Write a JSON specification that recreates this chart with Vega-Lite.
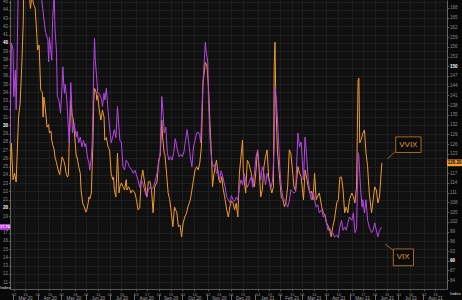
{
  "$schema": "https://vega.github.io/schema/vega-lite/v6.json",
  "width": 437,
  "height": 289,
  "autosize": {"type": "none"},
  "padding": {"left": 10, "top": 0, "right": 15, "bottom": 11},
  "background": "#080808",
  "config": {
    "font": "Liberation Sans",
    "view": {"fill": "#101010", "stroke": null},
    "axis": {"labelFont": "Liberation Sans", "titleFont": "Liberation Sans", "labelOverlap": false, "labelFlush": false}
  },
  "datasets": {
    "vix": [
      {"date":"2020-02-26","value":27.4},{"date":"2020-02-28","value":40.0},{"date":"2020-03-01","value":39.2},{"date":"2020-03-02","value":33.5},{"date":"2020-03-04","value":36.7},{"date":"2020-03-05","value":31.9},{"date":"2020-03-06","value":37.1},{"date":"2020-03-09","value":54.5},{"date":"2020-03-12","value":75.5},{"date":"2020-03-16","value":82.7},{"date":"2020-03-18","value":76.5},{"date":"2020-03-20","value":66.0},{"date":"2020-03-23","value":61.6},{"date":"2020-03-26","value":61.0},{"date":"2020-03-31","value":53.5},{"date":"2020-04-02","value":50.9},{"date":"2020-04-06","value":45.5},{"date":"2020-04-11","value":41.3},{"date":"2020-04-14","value":40.4},{"date":"2020-04-15","value":37.7},{"date":"2020-04-16","value":40.7},{"date":"2020-04-19","value":37.9},{"date":"2020-04-20","value":42.8},{"date":"2020-04-22","value":46.0},{"date":"2020-04-23","value":41.9},{"date":"2020-04-25","value":38.8},{"date":"2020-04-26","value":33.5},{"date":"2020-04-28","value":33.1},{"date":"2020-04-30","value":31.5},{"date":"2020-05-02","value":34.7},{"date":"2020-05-03","value":37.1},{"date":"2020-05-04","value":35.2},{"date":"2020-05-05","value":33.9},{"date":"2020-05-06","value":35.0},{"date":"2020-05-08","value":33.1},{"date":"2020-05-11","value":27.9},{"date":"2020-05-13","value":35.2},{"date":"2020-05-14","value":33.0},{"date":"2020-05-15","value":29.1},{"date":"2020-05-17","value":30.3},{"date":"2020-05-20","value":28.6},{"date":"2020-05-21","value":29.3},{"date":"2020-05-23","value":27.9},{"date":"2020-05-25","value":28.6},{"date":"2020-05-27","value":27.4},{"date":"2020-05-29","value":28.2},{"date":"2020-05-31","value":27.4},{"date":"2020-06-01","value":27.8},{"date":"2020-06-03","value":26.2},{"date":"2020-06-05","value":25.4},{"date":"2020-06-06","value":24.6},{"date":"2020-06-08","value":26.2},{"date":"2020-06-09","value":27.9},{"date":"2020-06-10","value":31.9},{"date":"2020-06-11","value":37.1},{"date":"2020-06-12","value":40.6},{"date":"2020-06-13","value":37.9},{"date":"2020-06-15","value":35.5},{"date":"2020-06-16","value":33.9},{"date":"2020-06-18","value":33.9},{"date":"2020-06-21","value":33.1},{"date":"2020-06-22","value":32.3},{"date":"2020-06-24","value":33.9},{"date":"2020-06-25","value":33.1},{"date":"2020-06-27","value":34.5},{"date":"2020-06-29","value":31.9},{"date":"2020-07-01","value":29.8},{"date":"2020-07-03","value":27.9},{"date":"2020-07-05","value":28.6},{"date":"2020-07-07","value":29.5},{"date":"2020-07-09","value":28.5},{"date":"2020-07-11","value":32.3},{"date":"2020-07-14","value":28.2},{"date":"2020-07-16","value":27.9},{"date":"2020-07-18","value":25.0},{"date":"2020-07-20","value":24.6},{"date":"2020-07-22","value":25.8},{"date":"2020-07-24","value":25.5},{"date":"2020-07-26","value":25.0},{"date":"2020-07-29","value":24.6},{"date":"2020-07-31","value":24.2},{"date":"2020-08-02","value":24.6},{"date":"2020-08-04","value":24.0},{"date":"2020-08-06","value":23.4},{"date":"2020-08-08","value":22.5},{"date":"2020-08-10","value":23.4},{"date":"2020-08-12","value":23.0},{"date":"2020-08-15","value":21.9},{"date":"2020-08-17","value":21.3},{"date":"2020-08-19","value":22.2},{"date":"2020-08-21","value":22.5},{"date":"2020-08-23","value":22.2},{"date":"2020-08-25","value":22.5},{"date":"2020-08-27","value":23.0},{"date":"2020-08-30","value":24.2},{"date":"2020-09-01","value":25.4},{"date":"2020-09-03","value":26.7},{"date":"2020-09-05","value":33.5},{"date":"2020-09-07","value":31.0},{"date":"2020-09-08","value":29.1},{"date":"2020-09-10","value":29.8},{"date":"2020-09-12","value":26.7},{"date":"2020-09-14","value":25.8},{"date":"2020-09-16","value":26.2},{"date":"2020-09-18","value":25.8},{"date":"2020-09-20","value":26.7},{"date":"2020-09-22","value":28.4},{"date":"2020-09-24","value":27.4},{"date":"2020-09-26","value":26.5},{"date":"2020-09-27","value":26.2},{"date":"2020-09-29","value":26.5},{"date":"2020-10-01","value":26.2},{"date":"2020-10-03","value":26.8},{"date":"2020-10-05","value":28.2},{"date":"2020-10-07","value":29.5},{"date":"2020-10-09","value":27.9},{"date":"2020-10-11","value":26.2},{"date":"2020-10-13","value":25.0},{"date":"2020-10-15","value":27.4},{"date":"2020-10-17","value":28.2},{"date":"2020-10-19","value":29.1},{"date":"2020-10-21","value":29.2},{"date":"2020-10-23","value":28.8},{"date":"2020-10-24","value":27.9},{"date":"2020-10-25","value":30.3},{"date":"2020-10-27","value":35.2},{"date":"2020-10-30","value":40.1},{"date":"2020-10-31","value":39.0},{"date":"2020-11-02","value":37.7},{"date":"2020-11-03","value":33.1},{"date":"2020-11-05","value":28.2},{"date":"2020-11-07","value":25.8},{"date":"2020-11-09","value":25.0},{"date":"2020-11-11","value":25.3},{"date":"2020-11-13","value":24.2},{"date":"2020-11-15","value":24.5},{"date":"2020-11-17","value":23.4},{"date":"2020-11-19","value":24.5},{"date":"2020-11-21","value":23.8},{"date":"2020-11-24","value":22.5},{"date":"2020-11-26","value":21.3},{"date":"2020-11-28","value":21.0},{"date":"2020-11-30","value":20.6},{"date":"2020-12-02","value":21.5},{"date":"2020-12-04","value":21.0},{"date":"2020-12-06","value":20.8},{"date":"2020-12-08","value":21.3},{"date":"2020-12-10","value":21.0},{"date":"2020-12-12","value":22.5},{"date":"2020-12-14","value":23.4},{"date":"2020-12-16","value":22.8},{"date":"2020-12-18","value":24.2},{"date":"2020-12-20","value":23.4},{"date":"2020-12-22","value":22.5},{"date":"2020-12-24","value":23.0},{"date":"2020-12-27","value":23.8},{"date":"2020-12-29","value":22.5},{"date":"2020-12-31","value":24.2},{"date":"2021-01-02","value":26.2},{"date":"2021-01-04","value":27.0},{"date":"2021-01-06","value":25.0},{"date":"2021-01-08","value":23.4},{"date":"2021-01-10","value":25.0},{"date":"2021-01-12","value":24.2},{"date":"2021-01-14","value":22.8},{"date":"2021-01-16","value":24.2},{"date":"2021-01-18","value":23.4},{"date":"2021-01-21","value":22.5},{"date":"2021-01-23","value":23.4},{"date":"2021-01-25","value":27.4},{"date":"2021-01-26","value":34.7},{"date":"2021-01-28","value":32.7},{"date":"2021-01-30","value":29.1},{"date":"2021-02-01","value":25.0},{"date":"2021-02-03","value":22.5},{"date":"2021-02-05","value":21.3},{"date":"2021-02-07","value":21.0},{"date":"2021-02-09","value":20.6},{"date":"2021-02-11","value":20.1},{"date":"2021-02-13","value":20.8},{"date":"2021-02-15","value":22.2},{"date":"2021-02-17","value":22.0},{"date":"2021-02-19","value":21.8},{"date":"2021-02-21","value":22.0},{"date":"2021-02-24","value":29.1},{"date":"2021-02-26","value":27.4},{"date":"2021-02-28","value":28.0},{"date":"2021-03-03","value":23.4},{"date":"2021-03-05","value":28.6},{"date":"2021-03-07","value":26.2},{"date":"2021-03-09","value":23.4},{"date":"2021-03-11","value":21.8},{"date":"2021-03-13","value":21.0},{"date":"2021-03-15","value":22.0},{"date":"2021-03-17","value":21.0},{"date":"2021-03-19","value":20.1},{"date":"2021-03-21","value":20.4},{"date":"2021-03-23","value":19.4},{"date":"2021-03-26","value":19.8},{"date":"2021-03-28","value":18.9},{"date":"2021-03-30","value":19.2},{"date":"2021-04-01","value":18.2},{"date":"2021-04-03","value":17.3},{"date":"2021-04-05","value":17.6},{"date":"2021-04-07","value":17.0},{"date":"2021-04-09","value":17.0},{"date":"2021-04-11","value":16.5},{"date":"2021-04-14","value":16.7},{"date":"2021-04-16","value":16.4},{"date":"2021-04-18","value":17.7},{"date":"2021-04-20","value":18.5},{"date":"2021-04-22","value":17.3},{"date":"2021-04-24","value":17.7},{"date":"2021-04-26","value":17.3},{"date":"2021-04-28","value":18.2},{"date":"2021-04-30","value":18.9},{"date":"2021-05-03","value":18.5},{"date":"2021-05-05","value":19.4},{"date":"2021-05-07","value":17.0},{"date":"2021-05-09","value":17.5},{"date":"2021-05-11","value":26.7},{"date":"2021-05-12","value":26.2},{"date":"2021-05-14","value":22.5},{"date":"2021-05-16","value":20.1},{"date":"2021-05-17","value":21.0},{"date":"2021-05-19","value":19.4},{"date":"2021-05-21","value":21.0},{"date":"2021-05-23","value":18.5},{"date":"2021-05-25","value":17.7},{"date":"2021-05-28","value":17.0},{"date":"2021-05-30","value":17.3},{"date":"2021-06-01","value":18.2},{"date":"2021-06-03","value":17.3},{"date":"2021-06-05","value":16.5},{"date":"2021-06-07","value":17.3},{"date":"2021-06-10","value":17.7}
    ],
    "vvix": [
      {"date":"2020-02-26","value":114},{"date":"2020-02-28","value":126.3},{"date":"2020-03-01","value":115},{"date":"2020-03-03","value":117},{"date":"2020-03-05","value":114.3},{"date":"2020-03-08","value":134.3},{"date":"2020-03-10","value":138.6},{"date":"2020-03-12","value":149.7},{"date":"2020-03-14","value":164},{"date":"2020-03-16","value":207},{"date":"2020-03-18","value":190},{"date":"2020-03-20","value":175},{"date":"2020-03-22","value":171},{"date":"2020-03-23","value":167.8},{"date":"2020-03-25","value":172},{"date":"2020-03-27","value":169},{"date":"2020-03-29","value":168},{"date":"2020-03-31","value":160},{"date":"2020-04-01","value":155},{"date":"2020-04-03","value":156.5},{"date":"2020-04-04","value":149.7},{"date":"2020-04-05","value":142.6},{"date":"2020-04-07","value":142},{"date":"2020-04-08","value":134.3},{"date":"2020-04-09","value":140.5},{"date":"2020-04-10","value":138.6},{"date":"2020-04-11","value":136.5},{"date":"2020-04-13","value":131.2},{"date":"2020-04-15","value":132},{"date":"2020-04-16","value":129.4},{"date":"2020-04-18","value":130},{"date":"2020-04-19","value":127.2},{"date":"2020-04-20","value":126},{"date":"2020-04-22","value":124.2},{"date":"2020-04-23","value":122},{"date":"2020-04-25","value":120.2},{"date":"2020-04-27","value":118},{"date":"2020-04-29","value":116.5},{"date":"2020-05-01","value":120.2},{"date":"2020-05-02","value":122},{"date":"2020-05-04","value":121},{"date":"2020-05-06","value":119},{"date":"2020-05-07","value":117},{"date":"2020-05-09","value":115.8},{"date":"2020-05-10","value":116.5},{"date":"2020-05-11","value":126.3},{"date":"2020-05-13","value":139.5},{"date":"2020-05-15","value":134.3},{"date":"2020-05-16","value":134},{"date":"2020-05-18","value":128.2},{"date":"2020-05-20","value":122},{"date":"2020-05-21","value":122},{"date":"2020-05-23","value":119},{"date":"2020-05-25","value":117},{"date":"2020-05-26","value":111.8},{"date":"2020-05-28","value":107.8},{"date":"2020-05-30","value":106.6},{"date":"2020-06-01","value":105},{"date":"2020-06-02","value":105.4},{"date":"2020-06-04","value":107.8},{"date":"2020-06-05","value":109.7},{"date":"2020-06-06","value":109},{"date":"2020-06-08","value":110.9},{"date":"2020-06-09","value":119},{"date":"2020-06-10","value":126.3},{"date":"2020-06-11","value":139.5},{"date":"2020-06-12","value":143.2},{"date":"2020-06-14","value":142},{"date":"2020-06-15","value":139.5},{"date":"2020-06-16","value":141},{"date":"2020-06-18","value":136.5},{"date":"2020-06-20","value":133.4},{"date":"2020-06-22","value":136.5},{"date":"2020-06-24","value":134.3},{"date":"2020-06-25","value":127.2},{"date":"2020-06-27","value":128},{"date":"2020-06-29","value":125.1},{"date":"2020-07-01","value":124.2},{"date":"2020-07-03","value":117},{"date":"2020-07-05","value":115},{"date":"2020-07-06","value":115.8},{"date":"2020-07-07","value":111.8},{"date":"2020-07-09","value":109.7},{"date":"2020-07-11","value":123.2},{"date":"2020-07-13","value":110.9},{"date":"2020-07-14","value":112.8},{"date":"2020-07-16","value":114},{"date":"2020-07-18","value":112.8},{"date":"2020-07-20","value":111.8},{"date":"2020-07-22","value":115},{"date":"2020-07-23","value":111.8},{"date":"2020-07-25","value":112.8},{"date":"2020-07-27","value":111.8},{"date":"2020-07-28","value":110.9},{"date":"2020-07-30","value":111.8},{"date":"2020-08-02","value":110.9},{"date":"2020-08-04","value":108.8},{"date":"2020-08-06","value":105.7},{"date":"2020-08-08","value":106.3},{"date":"2020-08-10","value":115},{"date":"2020-08-12","value":118},{"date":"2020-08-15","value":112.8},{"date":"2020-08-17","value":109.7},{"date":"2020-08-19","value":114.3},{"date":"2020-08-21","value":114.5},{"date":"2020-08-23","value":111.8},{"date":"2020-08-25","value":104.8},{"date":"2020-08-27","value":112.8},{"date":"2020-08-30","value":114.3},{"date":"2020-09-01","value":121},{"date":"2020-09-03","value":122.5},{"date":"2020-09-05","value":133.4},{"date":"2020-09-06","value":128.2},{"date":"2020-09-08","value":123.2},{"date":"2020-09-09","value":122.5},{"date":"2020-09-11","value":117},{"date":"2020-09-13","value":110.9},{"date":"2020-09-15","value":108.8},{"date":"2020-09-17","value":104.8},{"date":"2020-09-19","value":100.5},{"date":"2020-09-21","value":106.6},{"date":"2020-09-24","value":104.8},{"date":"2020-09-26","value":100.5},{"date":"2020-09-28","value":101},{"date":"2020-09-30","value":97.4},{"date":"2020-10-02","value":101.7},{"date":"2020-10-04","value":103.5},{"date":"2020-10-06","value":104.5},{"date":"2020-10-08","value":106.6},{"date":"2020-10-11","value":108.8},{"date":"2020-10-13","value":111.8},{"date":"2020-10-15","value":115},{"date":"2020-10-17","value":118},{"date":"2020-10-19","value":119},{"date":"2020-10-21","value":118},{"date":"2020-10-23","value":120.2},{"date":"2020-10-25","value":125.1},{"date":"2020-10-27","value":144.8},{"date":"2020-10-30","value":151.2},{"date":"2020-11-01","value":150},{"date":"2020-11-03","value":143.6},{"date":"2020-11-05","value":131.2},{"date":"2020-11-07","value":121},{"date":"2020-11-08","value":112.8},{"date":"2020-11-10","value":117},{"date":"2020-11-11","value":118.5},{"date":"2020-11-13","value":121},{"date":"2020-11-15","value":117},{"date":"2020-11-16","value":115},{"date":"2020-11-18","value":114},{"date":"2020-11-20","value":116},{"date":"2020-11-21","value":112.8},{"date":"2020-11-24","value":108.8},{"date":"2020-11-26","value":105.7},{"date":"2020-11-28","value":103.5},{"date":"2020-11-30","value":106.6},{"date":"2020-12-02","value":108.5},{"date":"2020-12-04","value":107.8},{"date":"2020-12-06","value":105.7},{"date":"2020-12-08","value":107.8},{"date":"2020-12-10","value":103.5},{"date":"2020-12-12","value":117},{"date":"2020-12-14","value":122},{"date":"2020-12-16","value":127.2},{"date":"2020-12-17","value":117},{"date":"2020-12-19","value":112.8},{"date":"2020-12-20","value":110.9},{"date":"2020-12-22","value":121},{"date":"2020-12-24","value":120},{"date":"2020-12-27","value":117},{"date":"2020-12-29","value":114},{"date":"2020-12-31","value":112.8},{"date":"2021-01-02","value":118},{"date":"2021-01-04","value":124.2},{"date":"2021-01-06","value":118},{"date":"2021-01-08","value":109.7},{"date":"2021-01-10","value":112},{"date":"2021-01-12","value":119},{"date":"2021-01-14","value":122},{"date":"2021-01-16","value":124.2},{"date":"2021-01-18","value":115.8},{"date":"2021-01-20","value":113},{"date":"2021-01-22","value":110.9},{"date":"2021-01-24","value":112.8},{"date":"2021-01-25","value":150},{"date":"2021-01-26","value":157.4},{"date":"2021-01-27","value":139.5},{"date":"2021-01-29","value":124.2},{"date":"2021-02-01","value":115},{"date":"2021-02-03","value":109.7},{"date":"2021-02-05","value":108.8},{"date":"2021-02-07","value":106.6},{"date":"2021-02-09","value":108.5},{"date":"2021-02-11","value":112.8},{"date":"2021-02-13","value":124.2},{"date":"2021-02-15","value":123.2},{"date":"2021-02-17","value":118},{"date":"2021-02-19","value":112.8},{"date":"2021-02-21","value":111.5},{"date":"2021-02-24","value":119},{"date":"2021-02-26","value":117},{"date":"2021-02-28","value":116},{"date":"2021-03-03","value":108.8},{"date":"2021-03-05","value":118},{"date":"2021-03-07","value":115.5},{"date":"2021-03-09","value":112.8},{"date":"2021-03-11","value":110.9},{"date":"2021-03-13","value":111.5},{"date":"2021-03-15","value":108.8},{"date":"2021-03-17","value":117},{"date":"2021-03-19","value":108.8},{"date":"2021-03-21","value":110},{"date":"2021-03-23","value":110.9},{"date":"2021-03-26","value":106.6},{"date":"2021-03-28","value":104.8},{"date":"2021-03-30","value":104},{"date":"2021-04-01","value":101.7},{"date":"2021-04-03","value":100.8},{"date":"2021-04-05","value":99.5},{"date":"2021-04-07","value":97.4},{"date":"2021-04-09","value":100.5},{"date":"2021-04-11","value":102.6},{"date":"2021-04-14","value":107.8},{"date":"2021-04-16","value":108.8},{"date":"2021-04-18","value":115.8},{"date":"2021-04-20","value":115.8},{"date":"2021-04-22","value":111.8},{"date":"2021-04-24","value":104.8},{"date":"2021-04-26","value":106.6},{"date":"2021-04-28","value":104.8},{"date":"2021-04-30","value":108.8},{"date":"2021-05-03","value":110.9},{"date":"2021-05-05","value":109.8},{"date":"2021-05-07","value":107.8},{"date":"2021-05-09","value":112.8},{"date":"2021-05-11","value":145.7},{"date":"2021-05-12","value":146.3},{"date":"2021-05-13","value":126.3},{"date":"2021-05-15","value":127.5},{"date":"2021-05-17","value":129.4},{"date":"2021-05-19","value":130.3},{"date":"2021-05-21","value":123.2},{"date":"2021-05-23","value":119},{"date":"2021-05-25","value":110.9},{"date":"2021-05-28","value":104.8},{"date":"2021-05-30","value":108.8},{"date":"2021-06-01","value":112.8},{"date":"2021-06-03","value":111.8},{"date":"2021-06-05","value":107.8},{"date":"2021-06-07","value":109.7},{"date":"2021-06-10","value":120.2}
    ]
  },
  "layer": [
    {
      "data": {"name": "vvix"},
      "mark": {"type": "line", "clip": true, "color": "#f09a2c", "strokeWidth": 1},
      "encoding": {
        "x": {
          "field": "date", "type": "temporal",
          "scale": {"type": "utc", "domain": [1582693200000, 1630393200000]},
          "axis": {
            "orient": "bottom", "title": null,
            "values": [1583107200000,1584316800000,1585699200000,1586995200000,1588291200000,1589760000000,1590969600000,1592265600000,1593561600000,1594857600000,1596412800000,1597622400000,1598918400000,1600214400000,1601510400000,1602806400000,1604275200000,1605484800000,1606780800000,1608076800000,1609718400000,1611014400000,1612137600000,1613433600000,1614556800000,1615852800000,1617235200000,1618531200000,1620000000000,1621209600000,1622505600000,1623801600000,1625097600000,1626393600000,1627862400000,1629072000000],
            "labelExpr": "utcFormat(datum.value, '%d')",
            "labelFontSize": 4, "labelColor": "#8c8c8c", "labelPadding": 1,
            "tickSize": 2, "tickColor": "#555555", "domainColor": "#555555",
            "grid": true, "gridColor": "#1e1e1e", "gridWidth": 1
          }
        },
        "y": {
          "field": "value", "type": "quantitative",
          "scale": {"domain": [81.28, 170.43], "nice": false, "zero": false},
          "axis": {
            "orient": "right", "title": "Index", "titleFontSize": 4, "titleColor": "#bbbbbb", "titleAngle": 0, "titleX": 8, "titleY": 293, "titleAlign": "center", "titleBaseline": "middle",
            "values": [84,87,90,93,96,99,102,105,108,111,114,117,123,126,129,132,135,138,141,144,147,150,153,156,159,162,165,168],
            "format": "d", "labelFontSize": 4.5, "labelPadding": 1,
            "labelColor": {"condition": {"test": "datum.value % 30 === 0", "value": "#ffffff"}, "value": "#8c8c8c"},
            "labelFontWeight": {"condition": {"test": "datum.value % 30 === 0", "value": "bold"}, "value": "normal"},
            "tickSize": 1.5, "tickColor": "#666666", "domainColor": "#666666", "grid": false
          }
        }
      }
    },
    {
      "data": {"name": "vix"},
      "mark": {"type": "line", "clip": true, "color": "#b646e4", "strokeWidth": 1},
      "encoding": {
        "x": {
          "field": "date", "type": "temporal",
          "axis": {
            "orient": "bottom", "title": null, "offset": 5,
            "values": [1583020800000,1585699200000,1588291200000,1590969600000,1593561600000,1596240000000,1598918400000,1601510400000,1604188800000,1606780800000,1609459200000,1612137600000,1614556800000,1617235200000,1619827200000,1622505600000,1625097600000,1627776000000],
            "labelExpr": "utcFormat(datum.value, '%b %y')",
            "labelFontSize": 4.5, "labelColor": "#a0a0a0", "labelPadding": -5, "labelOffset": 12,
            "tickSize": 6, "tickColor": "#6a6a6a", "domain": false, "grid": false
          }
        },
        "y": {
          "field": "value", "type": "quantitative",
          "scale": {"domain": [10.18, 45.21], "nice": false, "zero": false},
          "axis": {
            "orient": "left", "title": "Index", "titleFontSize": 4, "titleColor": "#bbbbbb", "titleAngle": 0, "titleX": -5, "titleY": 287, "titleAlign": "center", "titleBaseline": "middle",
            "values": [11,12,13,14,15,16,17,19,20,21,22,23,24,25,26,27,28,29,30,31,32,33,34,35,36,37,38,39,40,41,42,43,44,45],
            "format": "d", "labelFontSize": 4.5, "labelPadding": 1,
            "labelColor": {"condition": {"test": "datum.value % 10 === 0", "value": "#ffffff"}, "value": "#8c8c8c"},
            "labelFontWeight": {"condition": {"test": "datum.value % 10 === 0", "value": "bold"}, "value": "normal"},
            "tickSize": 1.5, "tickColor": "#666666", "domainColor": "#666666",
            "grid": true, "gridColor": "#1e1e1e", "gridWidth": 1
          }
        }
      }
    },
    {
      "data": {"name": "vvix"},
      "transform": [{"window": [{"op": "row_number", "as": "rn"}], "sort": [{"field": "date", "order": "descending"}]}, {"filter": "datum.rn === 1"}],
      "mark": {"type": "point", "shape": "M-1,-0.45L1,-0.45L1,0.45L-1,0.45Z", "size": 225, "filled": true, "opacity": 1, "color": "#f0a030", "xOffset": 7.5},
      "encoding": {
        "x": {"datum": 1630393200000, "type": "temporal", "axis": null},
        "y": {"field": "value", "type": "quantitative", "scale": {"domain": [81.28, 170.43], "nice": false, "zero": false}, "axis": null}
      }
    },
    {
      "data": {"name": "vvix"},
      "transform": [{"window": [{"op": "row_number", "as": "rn"}], "sort": [{"field": "date", "order": "descending"}]}, {"filter": "datum.rn === 1"}],
      "mark": {"type": "text", "fontSize": 4.5, "fontWeight": "bold", "color": "#000000", "xOffset": 7.5, "align": "center", "baseline": "middle"},
      "encoding": {
        "x": {"datum": 1630393200000, "type": "temporal", "axis": null},
        "y": {"field": "value", "type": "quantitative", "scale": {"domain": [81.28, 170.43], "nice": false, "zero": false}, "axis": null},
        "text": {"field": "value", "type": "quantitative", "format": ".2f"}
      }
    },
    {
      "data": {"values": [{}]},
      "mark": {"type": "rule", "color": "#8a6a3a", "strokeWidth": 1},
      "encoding": {
        "x": {"datum": 1624716000000, "type": "temporal", "axis": null},
        "x2": {"datum": 1623880800000},
        "y": {"datum": 123.6, "type": "quantitative", "scale": {"domain": [81.28, 170.43], "nice": false, "zero": false}, "axis": null},
        "y2": {"datum": 121.4}
      }
    },
    {
      "data": {"values": [{}]},
      "mark": {"type": "rect", "fill": "#0b0b0b", "stroke": "#a36c26", "strokeWidth": 1},
      "encoding": {
        "x": {"datum": 1624795200000, "type": "temporal", "axis": null},
        "x2": {"datum": 1627560000000},
        "y": {"datum": 128.2, "type": "quantitative", "scale": {"domain": [81.28, 170.43], "nice": false, "zero": false}, "axis": null},
        "y2": {"datum": 123.4}
      }
    },
    {
      "data": {"values": [{}]},
      "mark": {"type": "text", "fontSize": 8, "color": "#e8952f", "align": "center", "baseline": "middle"},
      "encoding": {
        "x": {"datum": 1626170400000, "type": "temporal", "axis": null},
        "y": {"datum": 125.7, "type": "quantitative", "scale": {"domain": [81.28, 170.43], "nice": false, "zero": false}, "axis": null},
        "text": {"value": "VVIX"}
      }
    },
    {
      "data": {"name": "vix"},
      "transform": [{"window": [{"op": "row_number", "as": "rn"}], "sort": [{"field": "date", "order": "descending"}]}, {"filter": "datum.rn === 1"}],
      "mark": {"type": "point", "shape": "M-1,-0.6L1,-0.6L1,0.6L-1,0.6Z", "size": 100, "filled": true, "opacity": 1, "color": "#b23cd8", "xOffset": -5},
      "encoding": {
        "x": {"datum": 1582693200000, "type": "temporal", "axis": null},
        "y": {"field": "value", "type": "quantitative", "scale": {"domain": [10.18, 45.21], "nice": false, "zero": false}, "axis": null}
      }
    },
    {
      "data": {"name": "vix"},
      "transform": [{"window": [{"op": "row_number", "as": "rn"}], "sort": [{"field": "date", "order": "descending"}]}, {"filter": "datum.rn === 1"}],
      "mark": {"type": "text", "fontSize": 4, "fontWeight": "bold", "color": "#ffffff", "xOffset": -5, "align": "center", "baseline": "middle"},
      "encoding": {
        "x": {"datum": 1582693200000, "type": "temporal", "axis": null},
        "y": {"field": "value", "type": "quantitative", "scale": {"domain": [10.18, 45.21], "nice": false, "zero": false}, "axis": null},
        "text": {"field": "value", "type": "quantitative", "format": ".2f"}
      }
    },
    {
      "data": {"values": [{}]},
      "mark": {"type": "rule", "color": "#8a6a3a", "strokeWidth": 1},
      "encoding": {
        "x": {"datum": 1624492800000, "type": "temporal", "axis": null},
        "x2": {"datum": 1623628800000},
        "y": {"datum": 14.91, "type": "quantitative", "scale": {"domain": [10.18, 45.21], "nice": false, "zero": false}, "axis": null},
        "y2": {"datum": 15.64}
      }
    },
    {
      "data": {"values": [{}]},
      "mark": {"type": "rect", "fill": "#0b0b0b", "stroke": "#a36c26", "strokeWidth": 1},
      "encoding": {
        "x": {"datum": 1624536000000, "type": "temporal", "axis": null},
        "x2": {"datum": 1626739200000},
        "y": {"datum": 15.03, "type": "quantitative", "scale": {"domain": [10.18, 45.21], "nice": false, "zero": false}, "axis": null},
        "y2": {"datum": 13.0}
      }
    },
    {
      "data": {"values": [{}]},
      "mark": {"type": "text", "fontSize": 8, "color": "#e8952f", "align": "center", "baseline": "middle"},
      "encoding": {
        "x": {"datum": 1625616000000, "type": "temporal", "axis": null},
        "y": {"datum": 14.02, "type": "quantitative", "scale": {"domain": [10.18, 45.21], "nice": false, "zero": false}, "axis": null},
        "text": {"value": "VIX"}
      }
    }
  ],
  "resolve": {"scale": {"y": "independent"}, "axis": {"x": "independent", "y": "independent"}}
}
